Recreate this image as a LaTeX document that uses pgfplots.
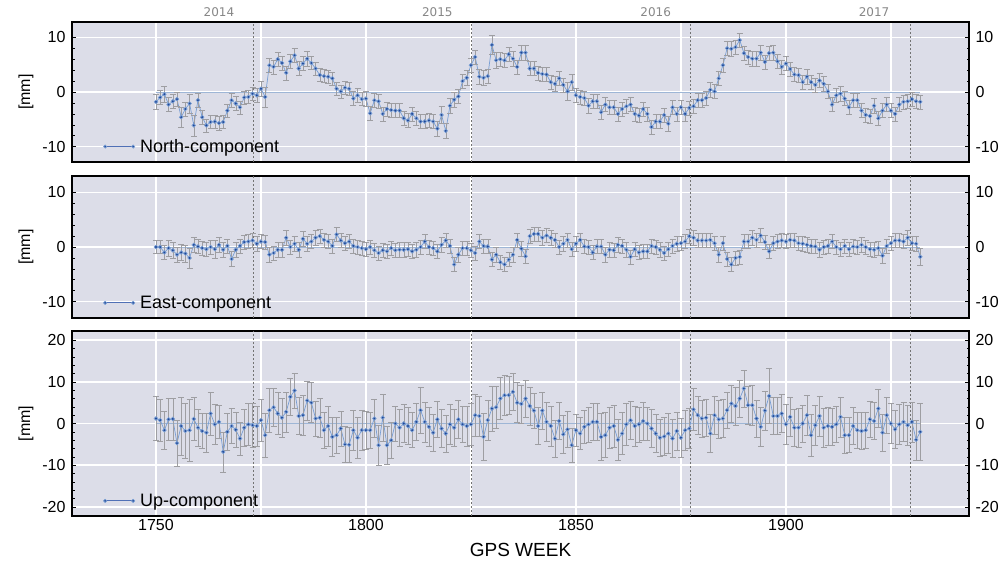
\documentclass[border=0pt]{standalone}
\usepackage{pgfplots}
\pgfplotsset{compat=1.18}
\usepackage{pgfplotstable}
\usepackage{fontspec}
\setmainfont{Liberation Sans}
\newfontfamily\yearfont{DejaVu Sans}

\definecolor{bgcol}{RGB}{220,221,232}
\definecolor{lineblue}{RGB}{120,158,212}
\definecolor{legblue}{RGB}{80,112,182}
\definecolor{dotblue}{RGB}{32,70,150}
\definecolor{errgray}{RGB}{158,158,162}
\definecolor{zeroblue}{RGB}{158,182,214}
\definecolor{yeargray}{RGB}{135,135,135}

% weekly coordinate residuals: GPS week, value [mm], 1-sigma [mm]
\pgfplotstableread{
w v e
1750 -1.8 1.4
1751 -1.0 1.3
1752 -0.4 1.4
1753 -2.3 1.3
1754 -1.7 1.3
1755 -1.3 1.3
1756 -4.6 1.8
1757 -3.1 1.3
1758 -2.1 1.7
1759 -6.1 1.9
1760 -1.5 1.3
1761 -4.6 1.3
1762 -6.1 1.2
1763 -5.5 1.2
1764 -5.4 1.2
1765 -5.7 1.2
1766 -5.5 1.2
1767 -3.4 1.2
1768 -1.5 1.3
1769 -2.1 1.3
1770 -2.8 1.2
1771 -1.0 1.2
1772 -0.9 1.2
1773 -0.3 1.2
1774 -0.6 1.2
1775 0.6 1.3
1776 -0.9 1.8
1777 4.9 1.2
1778 4.6 1.3
1779 6.0 1.3
1780 5.3 1.3
1781 3.5 1.3
1782 5.6 1.3
1783 6.7 1.3
1784 4.3 1.3
1785 5.2 1.3
1786 6.1 1.3
1787 5.3 1.2
1788 4.3 1.2
1789 3.1 1.2
1790 2.9 1.2
1791 2.8 1.2
1792 2.5 1.2
1793 0.6 1.2
1794 0.1 1.2
1795 0.8 1.2
1796 0.6 1.2
1797 -1.2 1.3
1798 -0.6 1.2
1799 -1.3 1.2
1800 -1.2 1.4
1801 -3.9 1.3
1802 -1.5 1.3
1803 -1.7 1.3
1804 -4.0 1.3
1805 -3.1 1.3
1806 -3.3 1.3
1807 -3.4 1.3
1808 -3.4 1.3
1809 -4.8 1.3
1810 -5.2 1.3
1811 -4.0 1.3
1812 -4.8 1.3
1813 -5.4 1.3
1814 -5.4 1.3
1815 -5.2 1.3
1816 -5.4 1.3
1817 -6.7 1.3
1818 -4.2 1.6
1819 -7.1 1.4
1820 -2.5 1.3
1821 -1.4 1.3
1822 -0.8 1.3
1823 2.0 1.3
1824 2.6 1.3
1825 4.9 1.3
1826 6.4 1.3
1827 2.8 1.3
1828 2.6 1.3
1829 2.9 1.3
1830 8.6 1.7
1831 5.8 1.4
1832 6.0 1.3
1833 5.8 1.3
1834 6.9 1.3
1835 6.1 1.3
1836 4.6 1.3
1837 7.2 1.3
1838 7.2 1.3
1839 4.3 1.3
1840 4.3 1.3
1841 3.5 1.3
1842 3.3 1.3
1843 3.2 1.3
1844 1.8 1.3
1845 1.5 1.3
1846 2.5 1.3
1847 1.3 1.3
1848 0.1 1.6
1849 1.8 1.5
1850 -0.6 1.3
1851 -0.9 1.3
1852 -1.1 1.3
1853 -2.5 1.3
1854 -1.7 1.3
1855 -1.7 1.3
1856 -3.7 1.3
1857 -2.3 1.3
1858 -2.8 1.3
1859 -2.8 1.3
1860 -4.0 1.3
1861 -3.1 1.3
1862 -2.6 1.3
1863 -2.3 1.3
1864 -4.0 1.3
1865 -4.3 1.3
1866 -3.1 1.3
1867 -4.0 1.3
1868 -6.4 1.3
1869 -5.4 1.3
1870 -5.4 1.3
1871 -4.2 1.3
1872 -5.8 1.3
1873 -2.8 1.3
1874 -4.0 1.3
1875 -2.8 1.3
1876 -4.0 1.3
1877 -2.9 1.3
1878 -2.6 1.3
1879 -1.5 1.3
1880 -1.5 1.3
1881 -1.1 1.3
1882 0.4 1.3
1883 0.1 1.3
1884 2.5 1.3
1885 4.9 1.3
1886 8.0 1.3
1887 7.9 1.3
1888 8.2 1.3
1889 9.5 1.3
1890 7.1 1.3
1891 6.4 1.3
1892 6.1 1.3
1893 6.1 1.3
1894 7.2 1.3
1895 5.5 1.3
1896 7.1 1.3
1897 7.2 1.3
1898 5.6 1.3
1899 4.6 1.3
1900 5.2 1.3
1901 4.2 1.3
1902 3.2 1.3
1903 3.1 1.3
1904 1.8 1.3
1905 2.8 1.3
1906 1.8 1.3
1907 1.3 1.3
1908 2.1 1.3
1909 1.5 1.3
1910 0.1 1.3
1911 -2.3 1.3
1912 -0.6 1.3
1913 -0.3 1.3
1914 -1.2 1.3
1915 -2.8 1.3
1916 -1.5 1.3
1917 -1.5 1.3
1918 -3.4 1.3
1919 -4.2 1.3
1920 -4.4 1.3
1921 -2.5 1.3
1922 -4.8 1.3
1923 -3.4 1.3
1924 -2.3 1.3
1925 -3.4 1.3
1926 -4.0 1.3
1927 -2.3 1.3
1928 -1.8 1.3
1929 -1.7 1.3
1930 -1.3 1.3
1931 -1.7 1.3
1932 -1.8 1.3
}\north

\pgfplotstableread{
w v e
1750 0.0 1.2
1751 0.0 1.2
1752 -1.0 1.3
1753 -0.2 1.4
1754 -0.6 1.5
1755 -1.4 1.4
1756 -1.0 1.5
1757 -1.2 1.6
1758 -2.0 1.8
1759 0.4 1.3
1760 0.1 1.3
1761 -0.2 1.3
1762 -0.4 1.3
1763 0.0 1.3
1764 -0.4 1.6
1765 0.4 1.3
1766 -0.5 1.3
1767 0.2 1.3
1768 -2.2 1.4
1769 -0.5 1.3
1770 0.2 1.3
1771 0.9 1.3
1772 1.0 1.3
1773 1.2 1.3
1774 0.6 1.3
1775 1.0 1.3
1776 0.9 1.3
1777 -1.4 1.3
1778 -1.1 1.3
1779 -0.5 1.3
1780 -0.5 1.3
1781 1.7 1.3
1782 0.0 1.3
1783 0.6 1.3
1784 -0.5 1.3
1785 1.5 1.3
1786 0.6 1.3
1787 1.0 1.3
1788 1.7 1.3
1789 2.0 1.3
1790 1.3 1.3
1791 1.0 1.3
1792 0.2 1.3
1793 2.3 1.3
1794 1.2 1.3
1795 0.7 1.3
1796 1.0 1.3
1797 0.2 1.3
1798 0.0 1.3
1799 -0.2 1.3
1800 -0.4 1.3
1801 0.0 1.3
1802 -0.6 1.3
1803 -1.1 1.3
1804 -0.6 1.3
1805 -0.8 1.3
1806 -0.2 1.3
1807 -0.6 1.3
1808 -0.5 1.3
1809 -0.5 1.3
1810 -0.4 1.3
1811 -0.8 1.3
1812 -0.5 1.3
1813 0.0 1.3
1814 1.0 1.3
1815 0.0 1.3
1816 -0.2 1.3
1817 -0.8 1.3
1818 0.4 1.3
1819 1.2 1.3
1820 0.2 1.3
1821 -3.2 1.3
1822 -1.4 1.3
1823 -0.2 1.3
1824 -0.2 1.3
1825 -0.6 1.3
1826 -1.1 1.3
1827 1.0 1.3
1828 0.2 1.3
1829 0.1 1.3
1830 -2.3 1.3
1831 -1.4 1.3
1832 -2.8 1.3
1833 -3.2 1.3
1834 -2.3 1.3
1835 -1.4 1.3
1836 1.3 1.3
1837 -0.3 1.3
1838 -1.7 1.3
1839 2.0 1.3
1840 2.4 1.3
1841 2.4 1.3
1842 1.7 1.3
1843 2.1 1.3
1844 1.7 1.3
1845 1.3 1.3
1846 0.0 1.3
1847 0.6 1.3
1848 1.3 1.3
1849 -0.4 1.3
1850 0.6 1.3
1851 1.3 1.3
1852 0.1 1.3
1853 0.0 1.3
1854 -1.0 1.3
1855 0.1 1.3
1856 0.1 1.3
1857 -1.4 1.3
1858 -0.5 1.3
1859 -0.6 1.3
1860 0.4 1.3
1861 0.2 1.3
1862 -0.5 1.3
1863 -1.8 1.3
1864 -0.4 1.3
1865 -1.0 1.3
1866 -0.8 1.3
1867 -0.8 1.3
1868 0.2 1.3
1869 0.0 1.3
1870 -0.5 1.3
1871 -1.1 1.3
1872 -0.4 1.3
1873 0.2 1.3
1874 0.6 1.3
1875 0.7 1.3
1876 1.0 1.3
1877 2.0 1.3
1878 1.7 1.3
1879 1.2 1.3
1880 1.2 1.3
1881 1.2 1.3
1882 1.3 1.3
1883 0.7 1.3
1884 -1.4 1.3
1885 0.7 1.3
1886 -2.2 1.3
1887 -3.2 1.3
1888 -2.0 1.3
1889 -1.8 1.3
1890 1.0 1.3
1891 1.0 1.3
1892 1.7 1.3
1893 1.3 1.3
1894 2.1 1.3
1895 0.9 1.3
1896 -0.8 1.3
1897 0.7 1.3
1898 1.0 1.3
1899 1.2 1.3
1900 1.0 1.3
1901 1.3 1.3
1902 1.2 1.3
1903 0.7 1.3
1904 0.6 1.3
1905 0.4 1.3
1906 0.2 1.3
1907 0.1 1.3
1908 -0.5 1.3
1909 0.0 1.3
1910 0.2 1.3
1911 1.0 1.3
1912 0.0 1.3
1913 -0.4 1.3
1914 0.2 1.3
1915 -0.4 1.3
1916 0.1 1.3
1917 0.0 1.3
1918 0.4 1.3
1919 0.0 1.3
1920 -0.4 1.3
1921 -0.5 1.3
1922 -0.2 1.3
1923 -1.6 1.3
1924 0.2 1.3
1925 0.7 1.3
1926 1.2 1.3
1927 1.2 1.3
1928 1.0 1.3
1929 1.7 1.3
1930 0.7 1.3
1931 0.6 1.3
1932 -1.8 1.6
}\east

\pgfplotstableread{
w v e
1750 1.2 5.3
1751 0.8 5.0
1752 -1.6 4.6
1753 1.0 5.1
1754 1.1 5.0
1755 -4.7 5.6
1756 -0.6 7.0
1757 -1.8 6.6
1758 -1.6 7.4
1759 1.1 5.2
1760 -1.0 4.4
1761 -1.8 4.2
1762 -2.2 4.6
1763 2.4 5.1
1764 -0.2 4.8
1765 0.4 3.9
1766 -6.8 4.8
1767 -2.0 4.4
1768 -0.6 4.2
1769 -1.5 4.1
1770 -3.6 4.0
1771 -1.0 4.4
1772 -0.2 5.0
1773 -0.4 5.3
1774 -0.6 4.8
1775 0.8 5.0
1776 -2.8 5.3
1777 3.2 5.2
1778 3.9 4.6
1779 2.4 5.0
1780 1.4 4.7
1781 2.8 4.8
1782 6.4 4.4
1783 7.9 4.2
1784 1.8 4.4
1785 2.0 4.8
1786 5.5 4.6
1787 5.0 4.8
1788 1.2 4.2
1789 1.4 4.6
1790 -1.6 4.4
1791 -0.6 4.8
1792 -3.2 4.6
1793 -2.8 4.4
1794 -1.2 4.2
1795 -5.0 4.4
1796 -5.1 4.2
1797 -1.6 4.8
1798 -3.4 5.0
1799 -1.6 4.8
1800 -1.6 4.6
1801 -1.6 4.4
1802 1.2 4.6
1803 -5.2 4.8
1804 1.4 5.6
1805 -5.2 4.6
1806 -4.0 4.4
1807 0.0 4.2
1808 -1.0 4.4
1809 0.0 4.6
1810 -0.6 4.4
1811 -1.6 4.2
1812 0.4 4.4
1813 3.2 5.6
1814 0.4 4.8
1815 -0.8 4.6
1816 -2.2 4.4
1817 1.0 4.4
1818 -1.2 4.6
1819 -2.4 4.4
1820 -0.2 4.8
1821 -1.0 4.4
1822 1.0 4.6
1823 -0.2 4.4
1824 -0.6 4.8
1825 -0.2 5.0
1826 2.0 5.0
1827 1.8 4.8
1828 -3.2 5.6
1829 0.8 4.8
1830 3.6 5.4
1831 3.9 5.0
1832 6.0 5.0
1833 6.8 4.8
1834 6.8 4.6
1835 7.6 4.4
1836 5.0 4.8
1837 4.7 4.6
1838 6.0 4.4
1839 4.2 4.6
1840 3.1 4.2
1841 -0.6 4.4
1842 3.1 4.4
1843 0.4 4.6
1844 -0.6 4.8
1845 -3.6 4.4
1846 0.6 4.4
1847 -2.6 4.6
1848 -1.4 4.4
1849 -5.2 4.0
1850 -1.6 3.8
1851 -2.4 3.8
1852 -0.8 4.0
1853 -0.2 4.2
1854 0.4 4.4
1855 0.4 4.4
1856 -3.2 5.6
1857 -2.8 5.4
1858 -1.0 5.0
1859 -0.6 5.0
1860 -3.9 5.0
1861 -2.4 5.0
1862 -0.2 5.0
1863 0.8 4.6
1864 -0.6 4.8
1865 -0.2 4.2
1866 0.6 4.6
1867 0.0 4.0
1868 -1.2 4.6
1869 -2.4 4.6
1870 -3.4 4.4
1871 -3.1 4.6
1872 -2.4 4.8
1873 -3.6 4.6
1874 -1.8 4.6
1875 -3.4 4.6
1876 -1.6 4.8
1877 -1.2 4.8
1878 3.4 5.0
1879 2.0 4.6
1880 1.2 4.4
1881 1.4 4.4
1882 -2.4 4.6
1883 2.0 4.6
1884 1.0 4.6
1885 1.2 4.6
1886 3.2 4.4
1887 4.8 4.4
1888 4.2 4.6
1889 6.0 4.4
1890 8.4 4.4
1891 4.4 4.6
1892 4.4 4.8
1893 1.2 4.4
1894 -0.8 4.6
1895 3.1 4.6
1896 6.6 6.6
1897 1.8 4.4
1898 1.8 4.4
1899 2.4 4.6
1900 -0.2 4.8
1901 1.6 4.6
1902 -1.0 4.4
1903 -1.0 4.6
1904 0.0 4.4
1905 2.0 4.8
1906 -2.8 5.0
1907 -0.4 4.8
1908 1.8 4.8
1909 -1.0 4.6
1910 -0.6 4.6
1911 -0.8 4.4
1912 -0.2 4.4
1913 1.6 4.8
1914 -2.8 4.4
1915 -2.8 4.2
1916 -0.6 4.4
1917 -1.6 4.4
1918 -1.8 4.4
1919 -1.6 4.4
1920 1.0 4.4
1921 0.6 4.4
1922 3.6 4.6
1923 -2.2 4.4
1924 2.0 4.4
1925 0.0 4.8
1926 -1.4 4.6
1927 -0.2 4.8
1928 0.4 4.6
1929 -0.4 4.8
1930 0.4 4.8
1931 -3.9 4.8
1932 -2.0 6.8
}\up

\pgfplotsset{
  panel/.style={
    scale only axis, width=897pt,
    xmin=1730, xmax=1943.6,
    axis background/.style={fill=bgcol},
    axis line style={black, line width=2pt},
    xtick={1750,1775,...,1925},
    xticklabels={},
    x tick style={draw=none},
    tick align=inside, tick pos=both,
    yticklabel pos=left,
    y tick style={black, line width=0.6pt},
    major tick length=4pt, minor tick length=2.5pt,
    minor y tick num=4,
    xmajorgrids, ymajorgrids,
    major grid style={white, line width=1.4pt},
    extra x ticks={1773.2,1825.1,1877.3,1929.6},
    extra x tick labels={},
    extra x tick style={grid=major, major grid style={black!55, line width=0.6pt, dash pattern=on 2.5pt off 1.5pt}, tick style={draw=none}},
    tick label style={font=\fontsize{16}{18}\selectfont},
    yticklabel style={xshift=-3pt},
    every axis y label/.style={at={(rel axis cs:0,0.5)}, xshift=-46pt, rotate=90, anchor=center, font=\fontsize{16}{18}\selectfont},
    ylabel={[mm]},
    legend style={draw=none, fill=none, at={(rel axis cs:0,0)}, anchor=south west,
      xshift=31pt, yshift=6pt, font=\fontsize{18}{20}\selectfont, inner sep=0pt,
      /tikz/every odd column/.append style={column sep=3pt}},
    legend cell align=left,
  },
  rlab/.style={
    scale only axis, width=897pt,
    xmin=1730, xmax=1943.6,
    axis line style={draw=none}, xtick=\empty, tick style={draw=none},
    yticklabel pos=right, clip=false,
    tick label style={font=\fontsize{16}{18}\selectfont},
    yticklabel style={xshift=3pt},
  },
  ser/.style={
    lineblue, line width=0.7pt, mark=*, mark size=1.8pt,
    mark options={draw=none, fill=dotblue, solid},
    /pgfplots/error bars/y dir=both,
    /pgfplots/error bars/y explicit,
    /pgfplots/error bars/error bar style={errgray, line width=0.45pt, solid},
    /pgfplots/error bars/error mark options={errgray, line width=0.45pt, mark size=3pt, rotate=90},
    legend image code/.code={
      \draw[draw=legblue, line width=0.8pt] (0pt,0pt) -- (28pt,0pt);
      \fill[fill=dotblue] (0pt,0pt) circle (1.6pt);
      \fill[fill=dotblue] (28pt,0pt) circle (1.6pt);
    },
  },
}
\tikzset{yearlab/.style={font=\yearfont\fontsize{12}{14}\selectfont, text=yeargray, anchor=center, yshift=10pt}}

\begin{document}
\begin{tikzpicture}
\useasboundingbox (0pt,0pt) rectangle (1003pt,-563pt);

% North
\begin{axis}[panel, at={(72pt,-22pt)}, anchor=north west, height=140pt,
  ymin=-12.8, ymax=12.8, ytick={-10,0,10}, yticklabels={-10,0,10}]
  \addplot[forget plot, zeroblue, line width=1pt] coordinates {(1750,0) (1932,0)};
  \addplot[ser] table[x=w, y=v, y error=e] {\north};
  \addlegendentry{North-component}
\end{axis}
\begin{axis}[rlab, at={(72pt,-22pt)}, anchor=north west, height=140pt,
  ymin=-12.8, ymax=12.8, ytick={-10,0,10}, yticklabels={-10,0,10}]
  \node[yearlab] at (axis cs:1765,12.8) {2014};
  \node[yearlab] at (axis cs:1817,12.8) {2015};
  \node[yearlab] at (axis cs:1869,12.8) {2016};
  \node[yearlab] at (axis cs:1921,12.8) {2017};
\end{axis}

% East
\begin{axis}[panel, at={(72pt,-176pt)}, anchor=north west, height=142pt,
  ymin=-13, ymax=13, ytick={-10,0,10}, yticklabels={-10,0,10}]
  \addplot[forget plot, zeroblue, line width=1pt] coordinates {(1750,0) (1932,0)};
  \addplot[ser] table[x=w, y=v, y error=e] {\east};
  \addlegendentry{East-component}
\end{axis}
\begin{axis}[rlab, at={(72pt,-176pt)}, anchor=north west, height=142pt,
  ymin=-13, ymax=13, ytick={-10,0,10}, yticklabels={-10,0,10}]
\end{axis}

% Up
\begin{axis}[panel, at={(72pt,-331pt)}, anchor=north west, height=185pt,
  ymin=-22.2, ymax=22.2, ytick={-20,-10,0,10,20}, yticklabels={-20,-10,0,10,20},
  xticklabels={1750,,1800,,1850,,1900,},
  xlabel={GPS WEEK},
  every axis x label/.style={at={(rel axis cs:0.5,0)}, yshift=-34pt, anchor=center, font=\fontsize{19}{22}\selectfont}]
  \addplot[forget plot, zeroblue, line width=1pt] coordinates {(1750,0) (1932,0)};
  \addplot[ser] table[x=w, y=v, y error=e] {\up};
  \addlegendentry{Up-component}
\end{axis}
\begin{axis}[rlab, at={(72pt,-331pt)}, anchor=north west, height=185pt,
  ymin=-22.2, ymax=22.2, ytick={-20,-10,0,10,20}, yticklabels={-20,-10,0,10,20}]
\end{axis}
\end{tikzpicture}
\end{document}
